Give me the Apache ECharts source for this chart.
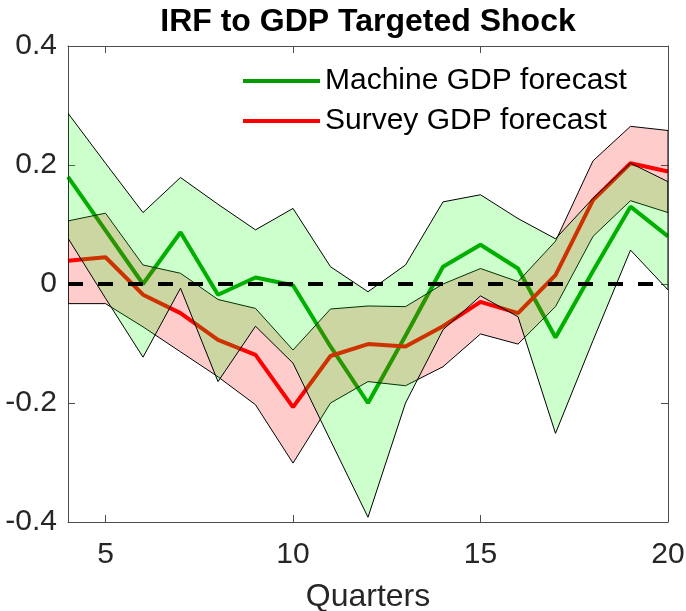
<!DOCTYPE html>
<html><head><meta charset="utf-8">
<script src="https://cdn.jsdelivr.net/npm/echarts@6/dist/echarts.min.js"></script>
<style>html,body{margin:0;padding:0;background:#fff}#c{width:686px;height:611px}</style>
</head><body><div id="c"></div>
<script>
const quarters = [4,5,6,7,8,9,10,11,12,13,14,15,16,17,18,19,20];
const machine      = [0.180, 0.090, 0.000, 0.087, -0.018, 0.011, -0.002, -0.105, -0.200, -0.087, 0.029, 0.066, 0.026, -0.090, 0.022, 0.130, 0.080];
const machineUpper = [0.287, 0.203, 0.120, 0.179, 0.134, 0.091, 0.127, 0.029, -0.013, 0.032, 0.138, 0.150, 0.110, 0.076, 0.144, 0.203, 0.172];
const machineLower = [0.077, -0.024, -0.123, -0.007, -0.164, -0.071, -0.133, -0.263, -0.392, -0.200, -0.077, -0.020, -0.055, -0.251, -0.095, 0.057, -0.010];
const survey       = [0.039, 0.045, -0.018, -0.049, -0.094, -0.119, -0.207, -0.121, -0.101, -0.105, -0.071, -0.030, -0.049, 0.015, 0.141, 0.203, 0.189];
const surveyUpper  = [0.106, 0.119, 0.032, 0.018, -0.026, -0.041, -0.111, -0.042, -0.037, -0.038, 0.000, 0.026, 0.004, 0.072, 0.207, 0.265, 0.258];
const surveyLower  = [-0.033, -0.033, -0.072, -0.114, -0.156, -0.203, -0.301, -0.200, -0.164, -0.171, -0.139, -0.084, -0.101, -0.038, 0.080, 0.140, 0.120];
const xTicks = [5, 10, 15, 20];
const yTicks = [-0.4, -0.2, 0, 0.2, 0.4];
const yTickLabels = ['-0.4', '-0.2', '0', '0.2', '0.4'];
const zeroLine = [0, 0];

const FONT = '"Liberation Sans", Arial, sans-serif';
const AXC = '#4d4d4d';
const TXT = '#262626';

function bandSeries(name, upper, lower, fill, z) {
  return {
    type: 'custom', name: name, z: z, silent: true, clip: true,
    data: quarters.map((q, i) => [q, lower[i], upper[i]]),
    encode: { x: 0, y: [1, 2] },
    renderItem: function (params, api) {
      if (params.dataIndex !== 0) return null;
      const pts = [];
      for (let i = 0; i < quarters.length; i++) pts.push(api.coord([quarters[i], upper[i]]));
      for (let i = quarters.length - 1; i >= 0; i--) pts.push(api.coord([quarters[i], lower[i]]));
      return {
        type: 'polygon',
        shape: { points: pts },
        style: { fill: fill, stroke: '#000', lineWidth: 1 }
      };
    }
  };
}

const chart = echarts.init(document.getElementById('c'), null, { renderer: 'canvas' });
chart.setOption({
  animation: false,
  backgroundColor: '#fff',
  title: {
    text: 'IRF to GDP Targeted Shock',
    left: 368, textAlign: 'center', top: 6, padding: 0,
    textStyle: { fontFamily: FONT, fontWeight: 'bold', fontSize: 32, color: '#000' }
  },
  legend: {
    data: ['Machine GDP forecast', 'Survey GDP forecast'],
    orient: 'vertical', left: 243, top: 66, itemGap: 10, padding: 0,
    icon: 'rect', itemWidth: 77, itemHeight: 4,
    textStyle: { fontFamily: FONT, fontSize: 30, color: '#000' }
  },
  grid: { left: 68, right: 18, top: 46, bottom: 89, outerBoundsMode: 'none', containLabel: false },
  xAxis: [{
    type: 'value', min: 4, max: 20, position: 'bottom',
    name: 'Quarters', nameLocation: 'middle', nameGap: 59,
    nameTextStyle: { fontFamily: FONT, fontSize: 32, color: TXT },
    axisLine: { onZero: false, lineStyle: { color: AXC, width: 1 } },
    axisTick: { inside: true, length: 7, customValues: xTicks, lineStyle: { color: AXC } },
    axisLabel: { customValues: xTicks, margin: 18, fontFamily: FONT, fontSize: 30, color: TXT },
    splitLine: { show: false }
  }, {
    type: 'value', min: 4, max: 20, position: 'top',
    axisLine: { onZero: false, lineStyle: { color: AXC, width: 1 } },
    axisTick: { inside: true, length: 7, customValues: xTicks, lineStyle: { color: AXC } },
    axisLabel: { show: false }, splitLine: { show: false }
  }],
  yAxis: [{
    type: 'value', min: -0.4, max: 0.4, interval: 0.2, position: 'left',
    axisLine: { show: true, onZero: false, lineStyle: { color: AXC, width: 1 } },
    axisTick: { show: true, inside: true, length: 7, lineStyle: { color: AXC } },
    axisLabel: {
      margin: 11, fontFamily: FONT, fontSize: 30, color: TXT,
      formatter: function (v) {
        for (let i = 0; i < yTicks.length; i++) if (Math.abs(yTicks[i] - v) < 1e-9) return yTickLabels[i];
        return '';
      }
    },
    splitLine: { show: false }
  }, {
    type: 'value', min: -0.4, max: 0.4, interval: 0.2, position: 'right',
    axisLine: { show: true, onZero: false, lineStyle: { color: AXC, width: 1 } },
    axisTick: { show: true, inside: true, length: 7, lineStyle: { color: AXC } },
    axisLabel: { show: false }, splitLine: { show: false }
  }],
  series: [
    {
      name: 'Machine GDP forecast', type: 'line', z: 2, symbol: 'none', silent: true,
      data: quarters.map((q, i) => [q, machine[i]]),
      lineStyle: { color: 'rgb(0,155,0)', width: 4 }, itemStyle: { color: 'rgb(0,155,0)' }
    },
    {
      name: 'Survey GDP forecast', type: 'line', z: 2, symbol: 'none', silent: true,
      data: quarters.map((q, i) => [q, survey[i]]),
      lineStyle: { color: 'rgb(255,0,0)', width: 4 }, itemStyle: { color: 'rgb(255,0,0)' }
    },
    bandSeries('Survey band', surveyUpper, surveyLower, 'rgba(255,0,0,0.2)', 3),
    bandSeries('Machine band', machineUpper, machineLower, 'rgba(0,255,0,0.2)', 4),
    {
      name: 'zero', type: 'line', z: 5, symbol: 'none', silent: true,
      data: [[quarters[0], zeroLine[0]], [quarters[quarters.length - 1], zeroLine[1]]],
      lineStyle: { color: '#000', width: 4, type: [15, 15] }
    }
  ]
});
</script>
</body></html>
